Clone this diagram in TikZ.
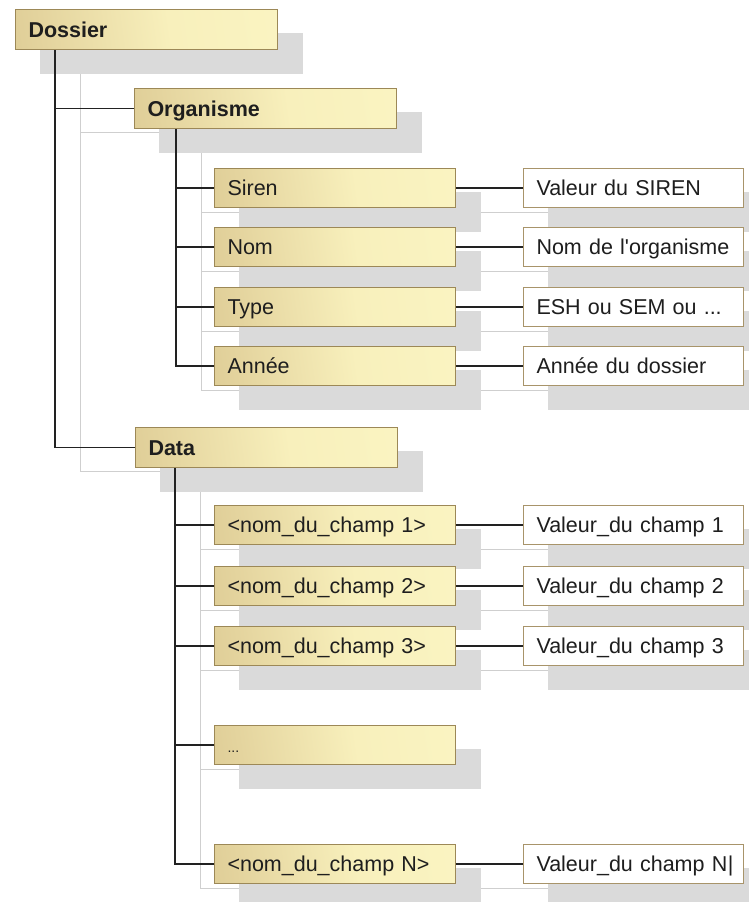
\documentclass[tikz,border=0pt]{standalone}
\usepackage{fontspec}
\setmainfont{Liberation Sans}
\pgfdeclarelayer{bg}
\pgfdeclarelayer{paper}
\pgfsetlayers{paper,bg,main}
\definecolor{tanc}{HTML}{D0BB84}
\definecolor{tanm}{HTML}{E4D49E}
\definecolor{palec}{HTML}{F8F0BC}
\definecolor{palec2}{HTML}{FCF7C6}
\definecolor{boxborder}{HTML}{9C8857}
\definecolor{valborder}{HTML}{A8946A}
\definecolor{shadowc}{HTML}{DADADA}
\definecolor{lineshadow}{HTML}{CFCFCF}
\definecolor{linec}{HTML}{222222}
\definecolor{textc}{HTML}{1E1E1E}
\pgfdeclarehorizontalshading{boxshade}{100bp}{color(0bp)=(tanc); color(28bp)=(tanm); color(55bp)=(palec); color(100bp)=(palec2)}
\tikzset{
  basebox/.style={rectangle, anchor=north west, line width=1pt, inner xsep=13pt,
    text height=15.4pt, text depth=0pt, align=left, text=textc,
    font=\fontsize{21.5}{24}\selectfont},
  topbox/.style={basebox, draw=boxborder, shading=boxshade, shading angle=8,
    minimum height=40pt, text width=236pt, font=\fontsize{21.5}{24}\selectfont\bfseries},
  kidbox/.style={basebox, draw=boxborder, shading=boxshade, shading angle=8,
    minimum height=39pt, text width=215pt},
  valbox/.style={basebox, draw=valborder, fill=white, minimum height=39pt, text width=194pt},
  conn/.style={draw=linec, line width=1.4pt},
  connshadow/.style={draw=lineshadow, line width=1pt}
}
\newcommand\shadowof[1]{\begin{pgfonlayer}{bg}\fill[shadowc] ([shift={(25pt,-24pt)}]#1.north west) rectangle ([shift={(25pt,-24pt)}]#1.south east);\end{pgfonlayer}}
\newcommand\treelink[3]{%
  \draw[conn] ([xshift=#2]#1.south west) |- (#3.west);
  \begin{pgfonlayer}{bg}\draw[connshadow] ([shift={(#2+25pt,-24pt)}]#1.south west) |- ([shift={(25pt,-24pt)}]#3.west);\end{pgfonlayer}}
\newcommand\valuelink[2]{%
  \draw[conn] (#1.east) -- (#2.west);
  \begin{pgfonlayer}{bg}\draw[connshadow] ([shift={(25pt,-24pt)}]#1.east) -- ([shift={(25pt,-24pt)}]#2.west);\end{pgfonlayer}}
\begin{document}
\begin{tikzpicture}[x=1pt,y=-1pt]
\useasboundingbox (0,0) rectangle (749,902);
\clip (0,0) rectangle (749,902);
\begin{pgfonlayer}{paper}\fill[white] (0,0) rectangle (749,902);\end{pgfonlayer}
% top level
\node[topbox] (dossier) at (15,9) {Dossier};
\node[topbox] (org) at (134,88) {Organisme};
\node[topbox] (data) at (135,427) {Data};
% Organisme children
\node[kidbox] (siren) at (214,168) {Siren};
\node[kidbox] (nom) at (214,227) {Nom};
\node[kidbox] (type) at (214,287) {Type};
\node[kidbox] (annee) at (214,346) {Année};
\node[valbox] (vsiren) at (523,168) {Valeur du SIREN};
\node[valbox] (vnom) at (523,227) {Nom de l\textquotesingle organisme};
\node[valbox] (vtype) at (523,287) {ESH ou SEM ou ...};
\node[valbox] (vannee) at (523,346) {Année du dossier};
% Data children
\node[kidbox] (c1) at (214,505) {<nom\_du\_champ 1>};
\node[kidbox] (c2) at (214,566) {<nom\_du\_champ 2>};
\node[kidbox] (c3) at (214,626) {<nom\_du\_champ 3>};
\node[kidbox] (cdots) at (214,725) {\fontsize{14}{16}\selectfont...};
\node[kidbox] (cn) at (214,844) {<nom\_du\_champ N>};
\node[valbox] (v1) at (523,505) {Valeur\_du champ 1};
\node[valbox] (v2) at (523,566) {Valeur\_du champ 2};
\node[valbox] (v3) at (523,626) {Valeur\_du champ 3};
\node[valbox] (vn) at (523,844) {\mbox{Valeur\_du champ N\kern0.5pt|}};
% shadows
\foreach \n in {dossier,org,data,siren,nom,type,annee,vsiren,vnom,vtype,vannee,c1,c2,c3,cdots,cn,v1,v2,v3,vn}{\shadowof{\n}}
% tree connectors
\treelink{dossier}{40pt}{org}
\treelink{dossier}{40pt}{data}
\treelink{org}{42pt}{siren}
\treelink{org}{42pt}{nom}
\treelink{org}{42pt}{type}
\treelink{org}{42pt}{annee}
\treelink{data}{40pt}{c1}
\treelink{data}{40pt}{c2}
\treelink{data}{40pt}{c3}
\treelink{data}{40pt}{cdots}
\treelink{data}{40pt}{cn}
% value connectors
\valuelink{siren}{vsiren}
\valuelink{nom}{vnom}
\valuelink{type}{vtype}
\valuelink{annee}{vannee}
\valuelink{c1}{v1}
\valuelink{c2}{v2}
\valuelink{c3}{v3}
\valuelink{cn}{vn}
\end{tikzpicture}
\end{document}
